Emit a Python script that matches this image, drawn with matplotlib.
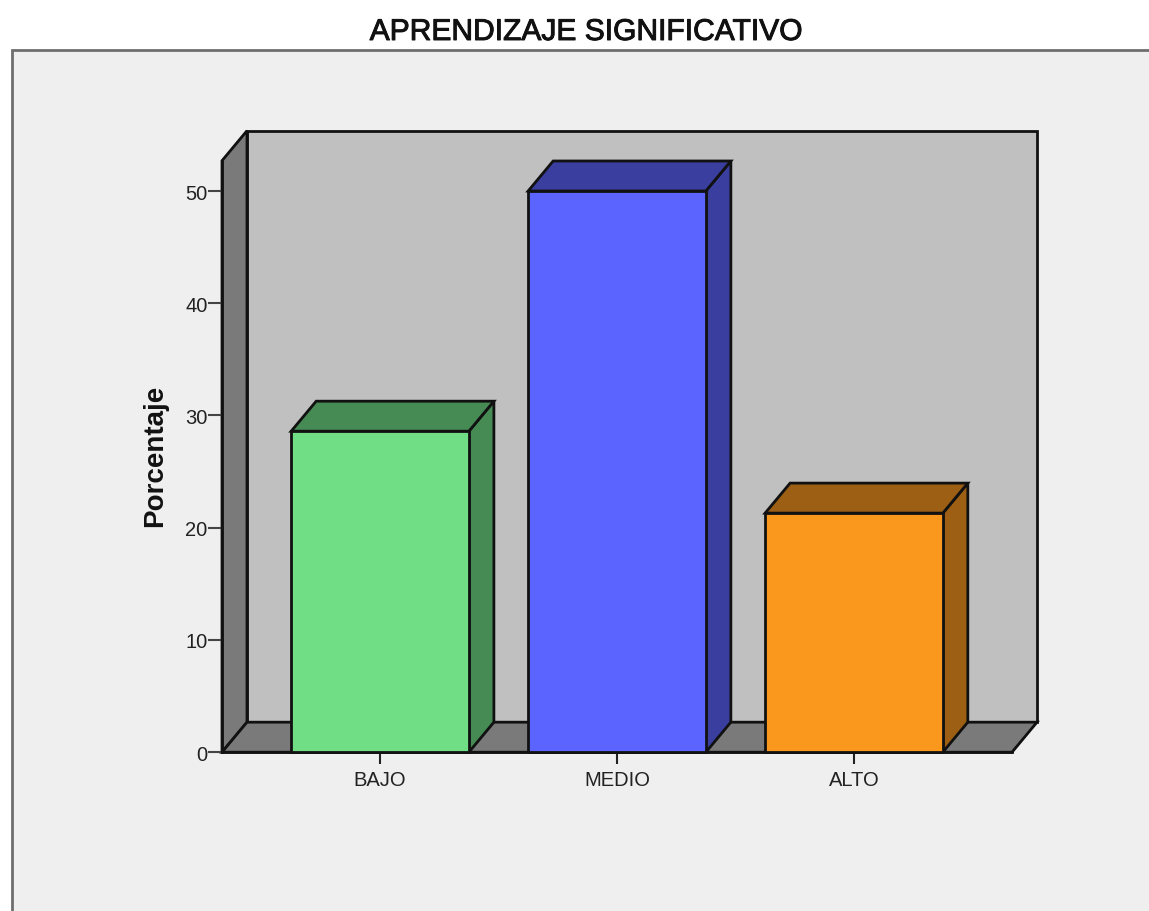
import matplotlib
matplotlib.use("Agg")
import matplotlib.pyplot as plt
import matplotlib.patheffects as pe
from matplotlib.patches import Polygon, Rectangle

plt.rcParams["font.family"] = ["Liberation Sans", "DejaVu Sans"]

# data
categories = ["BAJO", "MEDIO", "ALTO"]
porcentaje = [28.6, 50.0, 21.3]
y_ticks = [0, 10, 20, 30, 40, 50]

front_colors = ["#70DE85", "#5C64FF", "#FA981E"]
side_colors = ["#468A54", "#393E9F", "#9C5F13"]

W, H = 1149, 912
bar_width = 0.75
depth_x = 25 / 237   # 3d offset in x units
depth_y = 30 / 11.22  # 3d offset in y units
y_top = 52.7
x_lo, x_hi = -0.667, 2.667

fig = plt.figure(figsize=(W / 100, H / 100), dpi=100, facecolor="white")

# grey panel behind the chart, runs off the right and bottom edges
fig.patches.append(Rectangle((11.5 / W, -0.05), 1.2, 1 - 50.5 / H + 0.05,
                             transform=fig.transFigure, facecolor="#EFEFEF",
                             edgecolor="#6E6E6E", linewidth=2, zorder=-1))

title = fig.text(586 / W, 1 - 33 / H, "APRENDIZAJE SIGNIFICATIVO", ha="center", va="center",
                 fontsize=21.6, color="#111111")
title.set_path_effects([pe.withStroke(linewidth=0.7, foreground="#111111")])

ax = fig.add_axes([222 / W, 1 - 753.2 / H, 790 / W, 591.5 / H])
ax.set_xlim(x_lo, x_hi)
ax.set_ylim(0, y_top)
ax.patch.set_visible(False)
for s in ["top", "right"]:
    ax.spines[s].set_visible(False)
ax.spines["left"].set_linewidth(2)
ax.spines["bottom"].set_linewidth(2)
ax.spines["left"].set_color("#111111")
ax.spines["bottom"].set_color("#111111")


def face(points, color, z):
    ax.add_patch(Polygon(points, closed=True, facecolor=color, edgecolor="#111111",
                         linewidth=2, joinstyle="miter", clip_on=False, zorder=z))


# back wall, side wall, floor
face([(x_lo + depth_x, depth_y), (x_hi + depth_x, depth_y),
      (x_hi + depth_x, y_top + depth_y), (x_lo + depth_x, y_top + depth_y)], "#C0C0C0", 1)
face([(x_lo, 0), (x_lo + depth_x, depth_y),
      (x_lo + depth_x, y_top + depth_y), (x_lo, y_top)], "#7A7A7A", 1)
face([(x_lo, 0), (x_hi, 0), (x_hi + depth_x, depth_y), (x_lo + depth_x, depth_y)], "#7A7A7A", 1)

# bars: front, top and side faces
for i, val in enumerate(porcentaje):
    left = i - bar_width / 2
    right = i + bar_width / 2
    face([(right, 0), (right + depth_x, depth_y), (right + depth_x, val + depth_y), (right, val)],
         side_colors[i], 3)
    face([(left, val), (right, val), (right + depth_x, val + depth_y), (left + depth_x, val + depth_y)],
         side_colors[i], 3)
    face([(left, 0), (right, 0), (right, val), (left, val)], front_colors[i], 4)

ax.set_xticks(range(len(categories)))
ax.set_xticklabels(categories)
ax.set_yticks(y_ticks)
ax.tick_params(axis="x", length=8.5, width=1.5, pad=4, labelsize=14.5, color="#222222", labelcolor="#222222")
ax.tick_params(axis="y", length=10, width=1.5, pad=0.5, labelsize=14.5, color="#444444", labelcolor="#222222")

fig.text(155 / W, 1 - 456 / H, "Porcentaje", rotation=90, ha="center", va="center",
         fontsize=20, fontweight="bold", color="#111111")

plt.savefig("out.png", dpi=100, facecolor=fig.get_facecolor())
